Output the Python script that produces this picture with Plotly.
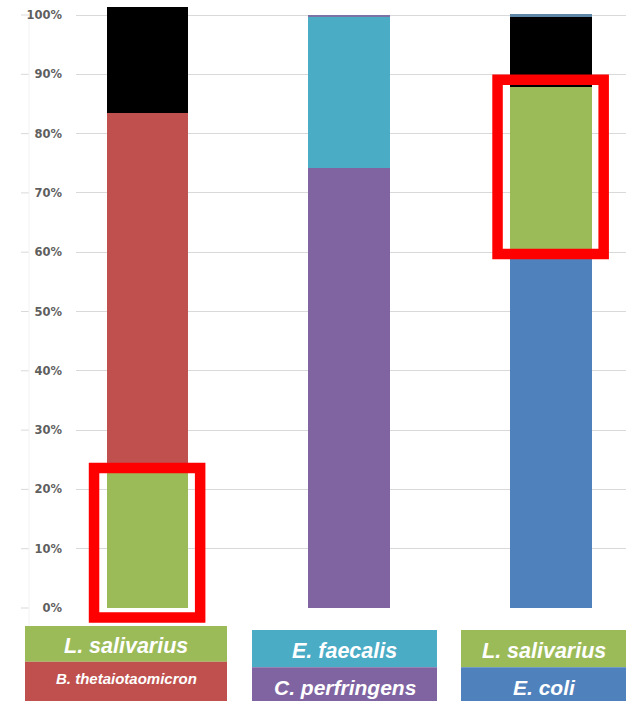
import plotly.graph_objects as go

# ---- data -------------------------------------------------------------
groups = ["L. salivarius + B. thetaiotaomicron",
          "E. faecalis + C. perfringens",
          "L. salivarius + E. coli"]

e_coli = [0.0, 0.0, 0.600]
l_salivarius = [0.228, 0.0, 0.279]
b_theta = [0.607, 0.0, 0.0]
c_perfringens = [0.0, 0.742, 0.0]
e_faecalis = [0.0, 0.255, 0.0]
other = [0.178, 0.0, 0.118]
minor = [0.0, 0.003, 0.004]

y_ticks = [0, 0.1, 0.2, 0.3, 0.4, 0.5, 0.6, 0.7, 0.8, 0.9, 1.0]
y_tick_text = ["0%", "10%", "20%", "30%", "40%", "50%", "60%", "70%", "80%", "90%", "100%"]

# legend boxes under each bar: (top label, top colour, bottom label, bottom colour, bottom font size)
group_labels = [
    ("L. salivarius", "#9BBB59", "B. thetaiotaomicron", "#C0504D", 15),
    ("E. faecalis", "#4BACC6", "C. perfringens", "#8064A2", 21),
    ("L. salivarius", "#9BBB59", "E. coli", "#4F81BD", 21),
]

# ---- geometry ---------------------------------------------------------
W, H = 626, 701
ML, MR, MT, MB = 76, 0, 0, 93
PW, PH = W - ML - MR, H - MT - MB
X_RANGE = [-0.3534, 2.3727]
Y_RANGE = [0, 1.0253]
BAR_W = 0.404


def px_x(px):
    return (px - ML) / PW


def px_y(py):
    return (H - MB - py) / PH


def dx(v):
    return (v - X_RANGE[0]) / (X_RANGE[1] - X_RANGE[0])


def dy(v):
    return (v - Y_RANGE[0]) / (Y_RANGE[1] - Y_RANGE[0])


fig = go.Figure()
xs = [0, 1, 2]


def add(vals, color, name):
    fig.add_trace(go.Bar(x=xs, y=vals, width=BAR_W, name=name,
                         marker=dict(color=color, line=dict(width=0)),
                         showlegend=False, hoverinfo="skip"))


add(e_coli, "#4F81BD", "E. coli")
add(l_salivarius, "#9BBB59", "L. salivarius")
add(b_theta, "#C0504D", "B. thetaiotaomicron")
add(c_perfringens, "#8064A2", "C. perfringens")
add(e_faecalis, "#4BACC6", "E. faecalis")
add(other, "#000000", "other")
add(minor, ["#000000", "#7B73A3", "#5E86A6"], "minor")

shapes = []

# short tick stubs to the left of the labels and a faint vertical rule
for t in y_ticks:
    shapes.append(dict(type="line", xref="paper", yref="paper",
                       x0=px_x(21), x1=px_x(29), y0=dy(t), y1=dy(t),
                       line=dict(color="#d9d9d9", width=1), layer="below"))
shapes.append(dict(type="line", xref="paper", yref="paper",
                   x0=px_x(29), x1=px_x(29), y0=dy(1.0), y1=px_y(626),
                   line=dict(color="#f2f2f2", width=1), layer="below"))

# red highlight frames around the L. salivarius segments
hl = [
    (0, 0.0, l_salivarius[0], -0.016, 0.008),
    (2, e_coli[2], e_coli[2] + l_salivarius[2], -0.003, 0.012),
]
for i, lo, hi, pad_lo, pad_hi in hl:
    shapes.append(dict(type="rect", xref="paper", yref="paper",
                       x0=dx(i - 0.264), x1=dx(i + 0.262),
                       y0=dy(lo + pad_lo), y1=dy(hi + pad_hi),
                       line=dict(color="#FF0000", width=10.5),
                       fillcolor="rgba(0,0,0,0)", layer="above"))

# coloured name boxes below the axis
box_x = [(25, 227), (252, 437), (461, 627)]
box_y = [(626, 661.7, 701), (630, 667.3, 701), (630, 667.3, 701)]
annotations = []
for (top_t, top_c, bot_t, bot_c, bot_fs), (x0, x1), (y0, ym, y1) in zip(group_labels, box_x, box_y):
    shapes.append(dict(type="rect", xref="paper", yref="paper",
                       x0=px_x(x0), x1=px_x(x1), y0=px_y(ym), y1=px_y(y0),
                       fillcolor=top_c, line=dict(width=0), layer="above"))
    shapes.append(dict(type="rect", xref="paper", yref="paper",
                       x0=px_x(x0), x1=px_x(x1), y0=px_y(y1), y1=px_y(ym),
                       fillcolor=bot_c, line=dict(width=0), layer="above"))
    cx = px_x((x0 + x1) / 2)
    annotations.append(dict(xref="paper", yref="paper", x=cx, y=px_y((y0 + ym) / 2 + 2),
                            text=top_t, showarrow=False, xanchor="center", yanchor="middle",
                            font=dict(family="Liberation Sans, Arial", size=21.5, color="white",
                                      weight="bold", style="italic")))
    annotations.append(dict(xref="paper", yref="paper", x=cx,
                            y=px_y((ym + y1) / 2 + (-3 if bot_fs < 20 else 3)),
                            text=bot_t, showarrow=False, xanchor="center", yanchor="middle",
                            font=dict(family="Liberation Sans, Arial", size=bot_fs, color="white",
                                      weight="bold", style="italic")))

fig.update_layout(
    width=W, height=H,
    margin=dict(l=ML, r=MR, t=MT, b=MB, pad=0),
    barmode="stack",
    paper_bgcolor="white", plot_bgcolor="white",
    shapes=shapes, annotations=annotations,
    xaxis=dict(range=X_RANGE, showticklabels=False, showgrid=False,
               zeroline=False, showline=False, ticks="", fixedrange=True),
    yaxis=dict(range=Y_RANGE, tickvals=y_ticks, ticktext=y_tick_text,
               showgrid=True, gridcolor="#d9d9d9", gridwidth=1,
               zeroline=False, showline=False, ticks="",
               ticklabelstandoff=13,
               tickfont=dict(family="DejaVu Sans", size=11.5, color="#5f5f5f", weight="bold")),
)

fig.write_html("out.html")
